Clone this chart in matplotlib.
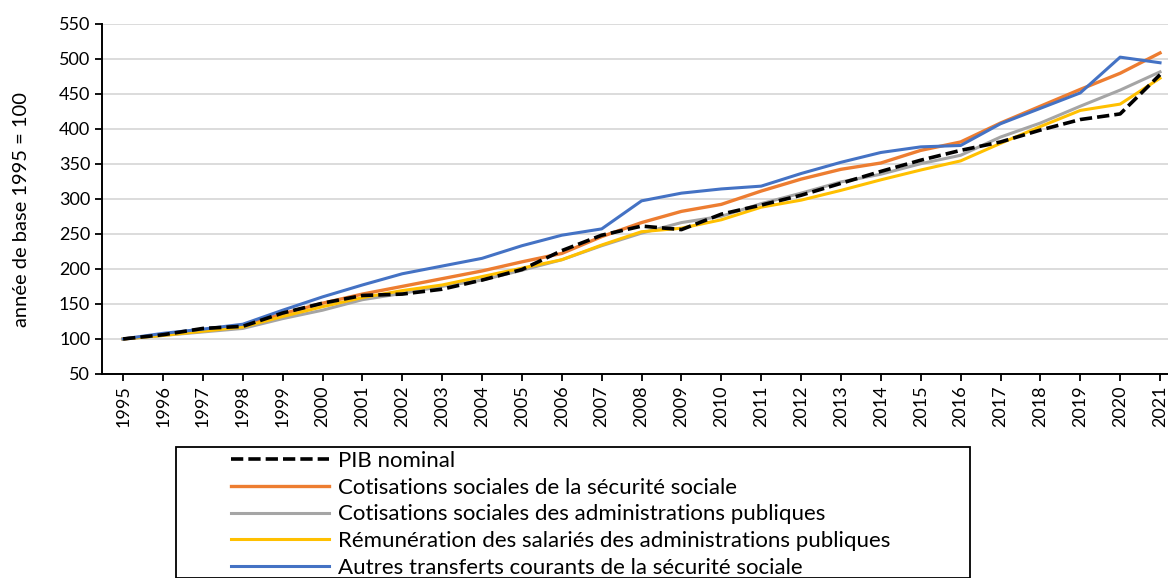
import matplotlib
matplotlib.use("Agg")
import matplotlib.pyplot as plt
from matplotlib.patches import Rectangle

plt.rcParams['font.family'] = ['Lato', 'DejaVu Sans']

years = list(range(1995, 2022))

# indices base 1995 = 100
pib_nominal = [100, 106, 115, 118, 137, 151, 162, 164, 171, 184, 199, 226, 248, 261, 256, 278, 291,
               305, 322, 339, 355, 369, 381, 398, 413, 421, 477]
cotis_secu = [100, 106, 112, 118, 136, 151, 164, 175, 186, 197, 210, 222, 246, 266, 282, 292, 311,
              328, 342, 351, 369, 381, 408, 432, 456, 479, 508]
cotis_apu = [100, 105, 110, 115, 129, 141, 156, 165, 175, 184, 198, 213, 233, 251, 266, 275, 293,
             308, 324, 335, 350, 362, 388, 408, 432, 455, 481]
remun_apu = [100, 105, 111, 117, 132, 146, 159, 169, 177, 189, 201, 213, 234, 253, 258, 270, 288,
             298, 312, 327, 341, 354, 379, 403, 426, 435, 472]
autres_transferts = [100, 108, 114, 121, 141, 160, 177, 193, 204, 215, 233, 248, 257, 297, 308, 314, 318,
                     336, 352, 366, 374, 376, 407, 429, 451, 502, 494]

labels = ["PIB nominal",
          "Cotisations sociales de la sécurité sociale",
          "Cotisations sociales des administrations publiques",
          "Rémunération des salariés des administrations publiques",
          "Autres transferts courants de la sécurité sociale"]

fig = plt.figure(figsize=(11.68, 5.78), dpi=100)
ax = fig.add_axes([102 / 1168, 1 - 374 / 578, 1 - 102 / 1168, (374 - 23.5) / 578])

l_pib, = ax.plot(years, pib_nominal, color='black', lw=2.6, ls=(0, (3.4, 1.4)), zorder=6)
l_secu, = ax.plot(years, cotis_secu, color='#ED7D31', lw=2.4, zorder=3)
l_apu, = ax.plot(years, cotis_apu, color='#A5A5A5', lw=2.2, zorder=4)
l_rem, = ax.plot(years, remun_apu, color='#FFC000', lw=2.2, zorder=4)
l_aut, = ax.plot(years, autres_transferts, color='#4472C4', lw=2.2, zorder=5)

ax.set_xlim(1994.47, 2021.2)
ax.set_ylim(50, 550)
ax.set_yticks(range(50, 551, 50))
ax.set_xticks(years)
ax.set_xticklabels([str(y) for y in years], rotation=90)
ax.tick_params(axis='both', labelsize=13, length=5, width=1.3, direction='out')
ax.tick_params(axis='x', pad=3)

ax.grid(axis='y', color='#D9D9D9', lw=1.3)
ax.set_axisbelow(True)
for side in ['top', 'right']:
    ax.spines[side].set_visible(False)
for side in ['left', 'bottom']:
    ax.spines[side].set_linewidth(1.4)

ax.set_ylabel("année de base 1995 = 100", fontsize=14.5, labelpad=6)
ax.yaxis.set_label_coords(-0.068, 0.47)

# legend box, cut at the bottom edge of the figure
fig.patches.append(Rectangle((176 / 1168, 0), (970 - 176) / 1168, (578 - 447) / 578,
                             transform=fig.transFigure, fill=False, ec='black', lw=1.3))
fig.legend([l_pib, l_secu, l_apu, l_rem, l_aut], labels,
           loc='upper left', bbox_to_anchor=(231 / 1168, 1 - 451 / 578),
           frameon=False, fontsize=16, handlelength=4.4, handletextpad=0.4,
           labelspacing=0.3, borderpad=0.0, borderaxespad=0.0)

fig.savefig("out.png", dpi=100)
